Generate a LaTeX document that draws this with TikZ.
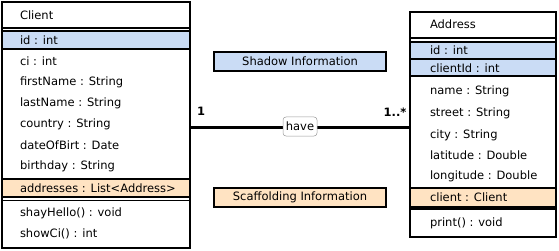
\documentclass[tikz,border=0pt]{standalone}
\usepackage{fontspec}
\setmainfont{DejaVu Sans}
\definecolor{shadowblue}{HTML}{CADCF5}
\definecolor{scaffold}{HTML}{FFE3C2}
\definecolor{labelgray}{HTML}{9A9A9A}
\begin{document}
\begin{tikzpicture}[x=1pt,y=-1pt,
  every node/.style={font=\fontsize{11.5}{13}\selectfont, inner sep=0pt, outer sep=0pt},
  classbox/.style={draw=black, line width=1.3pt, fill=white, anchor=north west},
  rowbox/.style={draw=black, line width=1.3pt, anchor=north west},
  attr/.style={anchor=west},
  legend/.style={draw=black, line width=1.3pt, minimum width=172pt, minimum height=19pt},
  sep/.style={line width=1.4pt},
  assoc/.style={line width=2.8pt},
  mult/.style={font=\fontsize{11.5}{13}\selectfont\bfseries},
  assoclabel/.style={draw=labelgray, line width=0.5pt, fill=white, rounded corners=3pt,
    minimum width=34pt, minimum height=19pt}
]
\useasboundingbox (0,0) rectangle (559,251);

% ---- Client class ----
\node[classbox, minimum width=188pt, minimum height=246pt] (client) at (2,2) {};
\node[rowbox, fill=shadowblue, minimum width=188pt, minimum height=18pt] (cidrow) at (2,31) {};
\node[rowbox, fill=scaffold, minimum width=188pt, minimum height=18pt] (caddrrow) at (2,179) {};
\draw[sep] (2,28) -- (190,28);
\draw[sep] (2,200.5) -- (190,200.5);
\node[attr] (cname) at (20,15) {Client};
\node[attr] (cid) at (20,40) {id : int};
\node[attr] (cci) at (20,61.5) {ci : int};
\node[attr] (cfirst) at (20,82) {firstName : String};
\node[attr] (clast) at (20,103) {lastName : String};
\node[attr] (ccountry) at (20,124) {country : String};
\node[attr] (cdob) at (20,145) {dateOfBirt : Date};
\node[attr] (cbirth) at (20,166) {birthday : String};
\node[attr] (caddr) at (20,188) {addresses : List<Address>};
\node[attr] (chello) at (20,213) {shayHello() : void};
\node[attr] (cshow) at (20,234) {showCi() : int};

% ---- Address class ----
\node[classbox, minimum width=146pt, minimum height=225pt] (address) at (410,12) {};
\node[rowbox, fill=shadowblue, minimum width=146pt, minimum height=17pt] (aidrow) at (410,42) {};
\node[rowbox, fill=shadowblue, minimum width=146pt, minimum height=17pt] (aclientidrow) at (410,59) {};
\node[rowbox, fill=scaffold, minimum width=146pt, minimum height=19pt] (aclientrow) at (410,188) {};
\draw[sep] (410,38) -- (556,38);
\draw[sep] (410,209) -- (556,209);
\node[attr] (aname) at (430,24) {Address};
\node[attr] (aid) at (430,50.5) {id : int};
\node[attr] (aclientid) at (430,68.5) {clientId : int};
\node[attr] (aname2) at (430,91) {name : String};
\node[attr] (astreet) at (430,113) {street : String};
\node[attr] (acity) at (430,135) {city : String};
\node[attr] (alat) at (430,155.5) {latitude : Double};
\node[attr] (alon) at (430,176.5) {longitude : Double};
\node[attr] (aclient) at (430,197.5) {client : Client};
\node[attr] (aprint) at (430,223) {print() : void};

% ---- legend boxes ----
\node[legend, fill=shadowblue] (shadow) at (300,61.5) {Shadow Information};
\node[legend, fill=scaffold] (scaff) at (300,197.5) {Scaffolding Information};

% ---- association ----
\coordinate (assocL) at (client.east |- 0,127.5);
\coordinate (assocR) at (address.west |- 0,127.5);
\draw[assoc] (assocL) -- (assocR);
\node[assoclabel] (have) at (300,126.5) {have};
\node[mult] (m1) at (201,111) {1};
\node[mult] (m2) at (395,112) {1..*};
\end{tikzpicture}
\end{document}
